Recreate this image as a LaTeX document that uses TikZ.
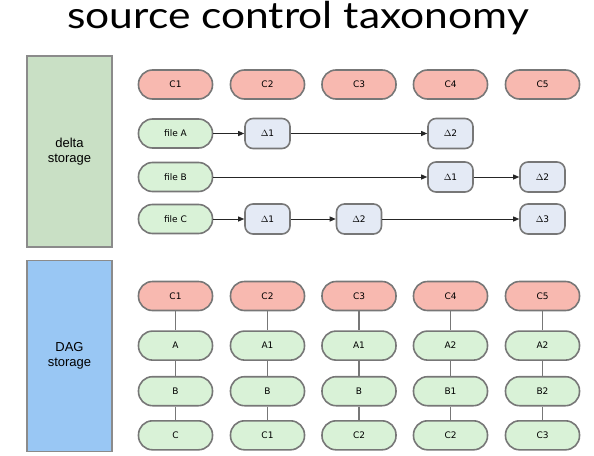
\documentclass[tikz,border=0pt]{standalone}
\usepackage{fontspec}
\setmainfont{DejaVu Sans}
\newfontfamily\titlefont[FakeStretch=1.15]{Lato}
\newfontfamily\boxfont{Liberation Sans}
\usepackage{tikz}
\usetikzlibrary{arrows.meta,positioning}
\definecolor{commitred}{HTML}{F8B9B0}
\definecolor{filegreen}{HTML}{D9F2D7}
\definecolor{deltablue}{HTML}{E4EAF5}
\definecolor{edgegray}{HTML}{777777}
\definecolor{deltabox}{HTML}{C9E0C5}
\definecolor{dagbox}{HTML}{99C7F4}

\begin{document}
\begin{tikzpicture}[
  x=1pt, y=-1pt,
  every node/.style={font=\fontsize{9}{10}\selectfont},
  pill/.style={draw=edgegray, line width=1.6pt, rounded corners=14pt,
               minimum width=74pt, minimum height=29pt, inner sep=0pt},
  commit/.style={pill, fill=commitred},
  blob/.style={pill, fill=filegreen},
  delta/.style={draw=edgegray, line width=1.6pt, rounded corners=8pt,
                minimum width=45pt, minimum height=30pt, inner sep=0pt, fill=deltablue},
  store/.style={draw=edgegray!85, line width=1.4pt, minimum width=85pt,
                minimum height=191pt, inner sep=0pt, align=center,
                font=\boxfont\fontsize{13}{15.5}\selectfont},
  arr/.style={-{Triangle[length=6pt,width=5pt]}, line width=0.9pt, black!85},
  link/.style={draw=edgegray, line width=1.5pt}
]
\useasboundingbox (0,0) rectangle (594,455);

%% Title
\node[font=\titlefont\fontsize{37}{40}\selectfont, anchor=base, inner sep=0pt]
  (title) at (298,28) {source control taxonomy};

%% Delta storage
\node[store, fill=deltabox] (deltastore) at (69.5,151.5) {delta\\storage};
\node[commit] (c1) at (175.5,84.5) {C1};
\node[commit] (c2) at (267.5,84.5) {C2};
\node[commit] (c3) at (359,84.5) {C3};
\node[commit] (c4) at (450.5,84.5) {C4};
\node[commit] (c5) at (542.5,84.5) {C5};

\node[blob] (fa) at (175.5,133.5) {file A};
\node[delta] (fa1) at (267.5,133.5) {$\Delta$1};
\node[delta] (fa2) at (450.5,133.5) {$\Delta$2};
\draw[arr] (fa.east) -- (fa1.west);
\draw[arr] (fa1.east) -- (fa2.west);

\node[blob] (fb) at (175.5,177) {file B};
\node[delta] (fb1) at (450.5,177) {$\Delta$1};
\node[delta] (fb2) at (542.5,177) {$\Delta$2};
\draw[arr] (fb.east) -- (fb1.west);
\draw[arr] (fb1.east) -- (fb2.west);

\node[blob] (fc) at (175.5,219) {file C};
\node[delta] (fc1) at (267.5,219) {$\Delta$1};
\node[delta] (fc2) at (359,219) {$\Delta$2};
\node[delta] (fc3) at (542.5,219) {$\Delta$3};
\draw[arr] (fc.east) -- (fc1.west);
\draw[arr] (fc1.east) -- (fc2.west);
\draw[arr] (fc2.east) -- (fc3.west);

%% DAG storage
\node[store, fill=dagbox] (dagstore) at (69.5,356) {DAG\\storage};

\node[commit] (d1) at (175.5,296) {C1};
\node[blob, below=19pt of d1] (d1a) {A};
\node[blob, below=15pt of d1a] (d1b) {B};
\node[blob, below=13.5pt of d1b] (d1c) {C};
\draw[link] (d1) -- (d1a) -- (d1b) -- (d1c);

\node[commit] (d2) at (267.5,296) {C2};
\node[blob, below=19pt of d2] (d2a) {A1};
\node[blob, below=15pt of d2a] (d2b) {B};
\node[blob, below=13.5pt of d2b] (d2c) {C1};
\draw[link] (d2) -- (d2a) -- (d2b) -- (d2c);

\node[commit] (d3) at (359,296) {C3};
\node[blob, below=19pt of d3] (d3a) {A1};
\node[blob, below=15pt of d3a] (d3b) {B};
\node[blob, below=13.5pt of d3b] (d3c) {C2};
\draw[link] (d3) -- (d3a) -- (d3b) -- (d3c);

\node[commit] (d4) at (450.5,296) {C4};
\node[blob, below=19pt of d4] (d4a) {A2};
\node[blob, below=15pt of d4a] (d4b) {B1};
\node[blob, below=13.5pt of d4b] (d4c) {C2};
\draw[link] (d4) -- (d4a) -- (d4b) -- (d4c);

\node[commit] (d5) at (542.5,296) {C5};
\node[blob, below=19pt of d5] (d5a) {A2};
\node[blob, below=15pt of d5a] (d5b) {B2};
\node[blob, below=13.5pt of d5b] (d5c) {C3};
\draw[link] (d5) -- (d5a) -- (d5b) -- (d5c);

\end{tikzpicture}
\end{document}
